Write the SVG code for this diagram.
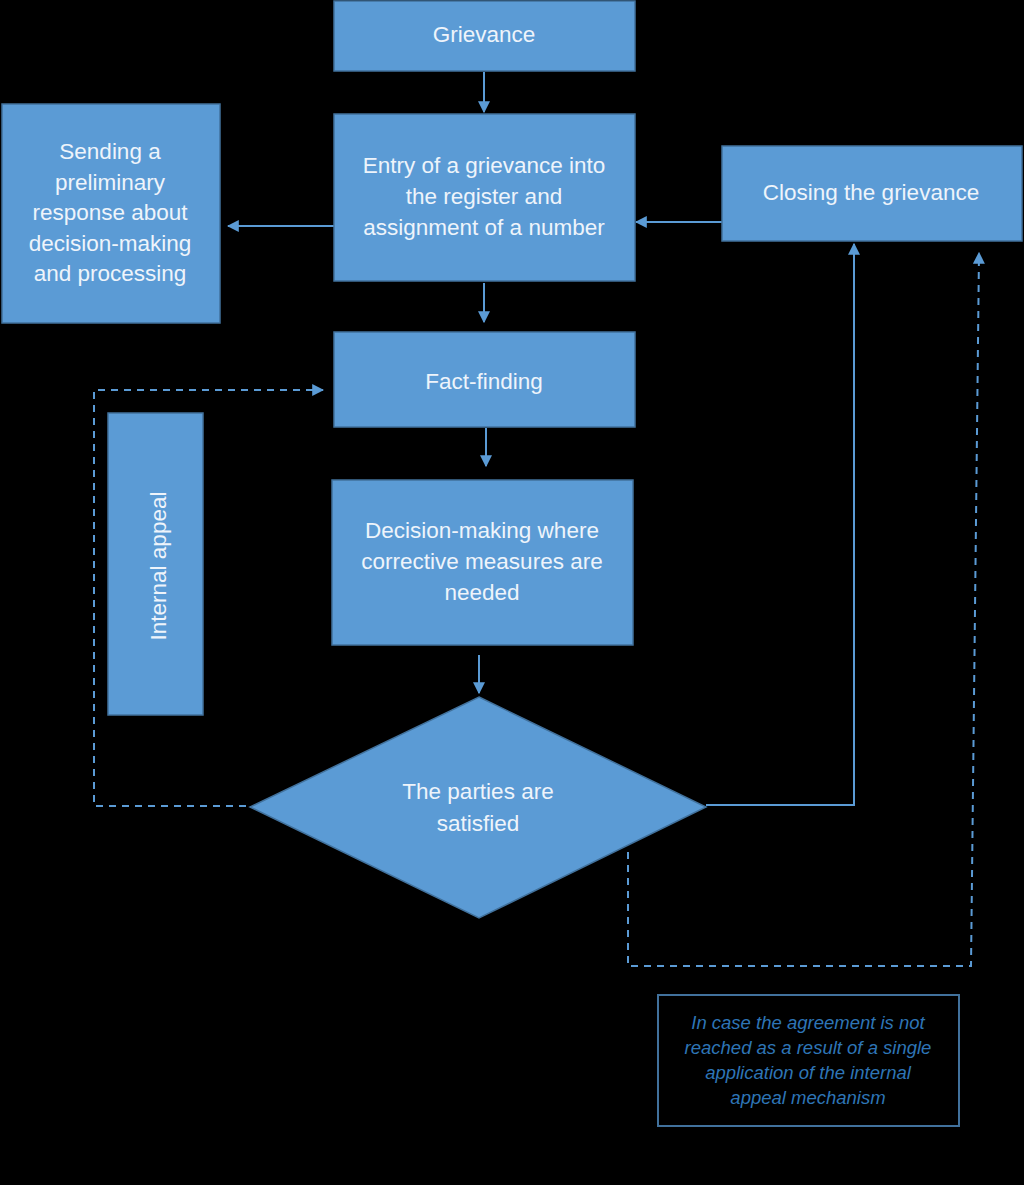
<svg xmlns="http://www.w3.org/2000/svg" width="1024" height="1185" viewBox="0 0 1024 1185">
<defs>
<style>
.box{fill:#5b9bd5;stroke:#41719c;stroke-width:1.5}
.t{font-family:"Liberation Sans",Arial,sans-serif;font-size:22.5px;fill:#eef4fb;text-anchor:middle}
.c{fill:none;stroke:#5b9bd5;stroke-width:2}
.d{fill:none;stroke:#5b9bd5;stroke-width:2;stroke-dasharray:7,6}
.note{fill:none;stroke:#41719c;stroke-width:2}
.nt{font-family:"Liberation Sans",Arial,sans-serif;font-size:18.5px;font-style:italic;fill:#2e75b6;text-anchor:middle}
</style>
<marker id="ah" viewBox="0 0 10 10" refX="9" refY="5" markerWidth="12" markerHeight="12" markerUnits="userSpaceOnUse" orient="auto">
<path d="M0,0 L10,5 L0,10 z" fill="#5b9bd5"/>
</marker>
</defs>
<rect width="1024" height="1185" fill="#000"/>
<g id="connectors">
<line class="c" x1="484" y1="72" x2="484" y2="112" marker-end="url(#ah)"/>
<line class="c" x1="334" y1="226" x2="228" y2="226" marker-end="url(#ah)"/>
<line class="c" x1="722" y1="222" x2="636" y2="222" marker-end="url(#ah)"/>
<line class="c" x1="484" y1="283" x2="484" y2="322" marker-end="url(#ah)"/>
<line class="c" x1="486" y1="428" x2="486" y2="466" marker-end="url(#ah)"/>
<line class="c" x1="479" y1="655" x2="479" y2="693" marker-end="url(#ah)"/>
<polyline class="c" points="706,805 854,805 854,244" marker-end="url(#ah)"/>
<polyline class="d" points="246,806 94,806 94,390 323,390" marker-end="url(#ah)"/>
<polyline class="d" points="628,852 628,966 971,966 979,253" marker-end="url(#ah)"/>
</g>
<g id="grievance">
<rect class="box" x="334" y="1" width="301" height="70"/>
<text class="t" x="484" y="42">Grievance</text>
</g>
<g id="entry">
<rect class="box" x="334" y="114" width="301" height="167"/>
<text class="t" x="484" y="173">Entry of a grievance into</text>
<text class="t" x="484" y="204">the register and</text>
<text class="t" x="484" y="235">assignment of a number</text>
</g>
<g id="sending">
<rect class="box" x="2" y="104" width="218" height="219"/>
<text class="t" x="110" y="159">Sending a</text>
<text class="t" x="110" y="190">preliminary</text>
<text class="t" x="110" y="220">response about</text>
<text class="t" x="110" y="251">decision-making</text>
<text class="t" x="110" y="281">and processing</text>
</g>
<g id="closing">
<rect class="box" x="722" y="146" width="300" height="95"/>
<text class="t" x="871" y="200">Closing the grievance</text>
</g>
<g id="factfinding">
<rect class="box" x="334" y="332" width="301" height="95"/>
<text class="t" x="484" y="389">Fact-finding</text>
</g>
<g id="decision">
<rect class="box" x="332" y="480" width="301" height="165"/>
<text class="t" x="482" y="538">Decision-making where</text>
<text class="t" x="482" y="569">corrective measures are</text>
<text class="t" x="482" y="600">needed</text>
</g>
<g id="appeal">
<rect class="box" x="108" y="413" width="95" height="302"/>
<text class="t" x="0" y="0" transform="translate(166,566) rotate(-90)">Internal appeal</text>
</g>
<g id="satisfied">
<polygon class="box" points="479,697 706,807 479,918 250,807"/>
<text class="t" x="478" y="799">The parties are</text>
<text class="t" x="478" y="831">satisfied</text>
</g>
<g id="note">
<rect class="note" x="658" y="995" width="301" height="131"/>
<text class="nt" x="808" y="1029">In case the agreement is not</text>
<text class="nt" x="808" y="1054">reached as a result of a single</text>
<text class="nt" x="808" y="1079">application of the internal</text>
<text class="nt" x="808" y="1104">appeal mechanism</text>
</g>
</svg>
